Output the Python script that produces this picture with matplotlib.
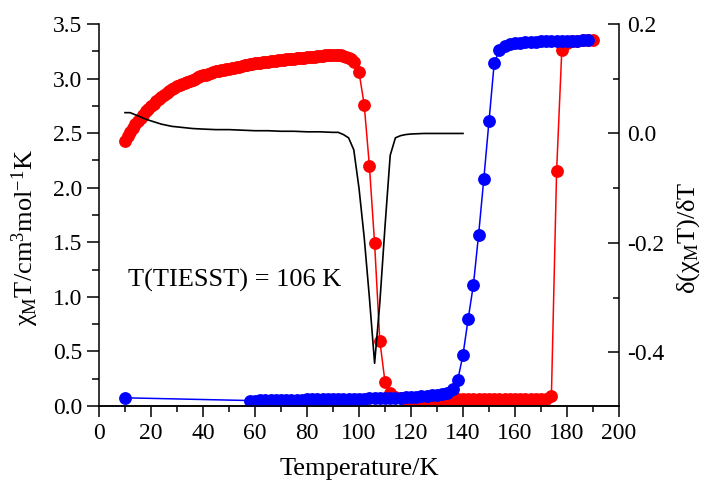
import matplotlib
matplotlib.use("Agg")
import matplotlib.pyplot as plt
from matplotlib.ticker import MultipleLocator, FixedLocator, FormatStrFormatter

plt.rcParams['font.family'] = ['Liberation Serif', 'DejaVu Serif']
plt.rcParams['mathtext.fontset'] = 'custom'
plt.rcParams['mathtext.rm'] = 'Liberation Serif'
plt.rcParams['mathtext.it'] = 'Liberation Serif:italic'
plt.rcParams['axes.unicode_minus'] = False

# ---- data: red series (chi_M T, left axis) ----
T_red = [10, 11, 12, 13, 14, 15, 16, 17, 18, 19, 20, 21, 22, 23, 24, 25, 26, 27, 28, 29,
         30, 31, 32, 33, 34, 35, 36, 37, 38, 39, 40, 41, 42, 43, 44, 45, 46, 47, 48, 49,
         50, 51, 52, 53, 54, 55, 56, 57, 58, 59, 60, 61, 62, 63, 64, 65, 66, 67, 68, 69,
         70, 71, 72, 73, 74, 75, 76, 77, 78, 79, 80, 81, 82, 83, 84, 85, 86, 87, 88, 89,
         90, 91, 92, 93, 94, 95, 96, 97, 98, 100, 102, 104, 106, 108, 110, 112, 114, 116,
         118, 120, 122, 124, 126, 128, 130, 132, 134, 136, 138, 140, 142, 144, 146, 148,
         150, 152, 154, 156, 158, 160, 162, 164, 166, 168, 170, 172, 174, 176, 178, 180,
         182, 184, 186, 188, 190]
chi_red = [2.43, 2.47, 2.51, 2.55, 2.58, 2.61, 2.64, 2.67, 2.70, 2.725, 2.75, 2.77, 2.79,
           2.81, 2.83, 2.85, 2.87, 2.885, 2.90, 2.915, 2.93, 2.94, 2.95, 2.96, 2.97, 2.98,
           2.99, 3.00, 3.01, 3.02, 3.03, 3.035, 3.04, 3.05, 3.06, 3.065, 3.07, 3.075, 3.08,
           3.085, 3.09, 3.095, 3.10, 3.105, 3.11, 3.115, 3.12, 3.125, 3.13, 3.135, 3.14,
           3.142, 3.145, 3.148, 3.15, 3.155, 3.16, 3.162, 3.165, 3.168, 3.17, 3.172, 3.175,
           3.178, 3.18, 3.182, 3.185, 3.188, 3.19, 3.192, 3.195, 3.198, 3.20, 3.202, 3.205,
           3.208, 3.21, 3.212, 3.215, 3.218, 3.22, 3.22, 3.22, 3.218, 3.21, 3.20, 3.19,
           3.175, 3.15, 3.06, 2.76, 2.20, 1.49, 0.60, 0.22, 0.12, 0.08, 0.07, 0.065, 0.06,
           0.06, 0.06, 0.06, 0.06, 0.06, 0.06, 0.06, 0.06, 0.06, 0.06, 0.06, 0.06, 0.06,
           0.06, 0.06, 0.06, 0.06, 0.06, 0.06, 0.062, 0.062, 0.063, 0.064, 0.065, 0.066,
           0.068, 0.092, 2.15, 3.26, 3.33, 3.34, 3.345, 3.35, 3.35, 3.355]

# ---- data: blue series (chi_M T, left axis) ----
T_blue = [10, 58, 60, 62, 64, 66, 68, 70, 72, 74, 76, 78, 80, 82, 84, 86, 88, 90, 92, 94,
          96, 98, 100, 102, 104, 106, 108, 110, 112, 114, 116, 118, 120, 122, 124, 126,
          128, 130, 132, 134, 136, 138, 140, 142, 144, 146, 148, 150, 152, 154, 156, 158,
          160, 162, 164, 166, 168, 170, 172, 174, 176, 178, 180, 182, 184, 186, 188]
chi_blue = [0.075, 0.05, 0.05, 0.051, 0.052, 0.053, 0.054, 0.055, 0.056, 0.057, 0.058,
            0.059, 0.06, 0.061, 0.062, 0.062, 0.063, 0.063, 0.064, 0.065, 0.066, 0.066,
            0.067, 0.068, 0.069, 0.070, 0.071, 0.072, 0.073, 0.074, 0.076, 0.078, 0.082,
            0.085, 0.09, 0.094, 0.10, 0.105, 0.11, 0.12, 0.16, 0.24, 0.47, 0.80, 1.11,
            1.57, 2.08, 2.61, 3.14, 3.26, 3.30, 3.32, 3.325, 3.33, 3.333, 3.335, 3.337,
            3.34, 3.34, 3.342, 3.344, 3.345, 3.346, 3.347, 3.348, 3.349, 3.35]

# ---- data: derivative d(chi_M T)/dT (black, right axis) ----
T_der = [10, 12, 14, 16, 18, 20, 24, 28, 32, 36, 40, 45, 50, 55, 60, 65, 70, 75, 80, 85,
         90, 92, 94, 96, 98, 100, 102, 104, 106, 108, 110, 112, 114, 116, 118, 120, 125,
         130, 135, 140]
d_der = [0.038, 0.038, 0.034, 0.030, 0.026, 0.023, 0.017, 0.013, 0.011, 0.009, 0.008,
         0.007, 0.007, 0.006, 0.005, 0.005, 0.004, 0.004, 0.003, 0.003, 0.002, 0.002,
         -0.002, -0.008, -0.030, -0.100, -0.190, -0.300, -0.420, -0.310, -0.170, -0.040,
         -0.008, -0.004, -0.002, -0.001, 0.0, 0.0, 0.0, 0.0]

annotation = "T(TIESST) = 106 K"
x_ticks = [0, 20, 40, 60, 80, 100, 120, 140, 160, 180, 200]
y_left_ticks = [0.0, 0.5, 1.0, 1.5, 2.0, 2.5, 3.0, 3.5]
y_right_ticks = [-0.4, -0.2, 0.0, 0.2]

fig = plt.figure(figsize=(7.08, 4.82), dpi=100)
ax = fig.add_axes([99/708, 1-406/482, 520/708, 382/482])
ax2 = ax.twinx()

lw_sp = 1.1
ax.plot(T_red, chi_red, '-o', color='#ff0000', ms=8.2, lw=1.1, mec='#ff0000', zorder=2)
ax.plot(T_blue, chi_blue, '-o', color='#0000ff', ms=8.2, lw=1.1, mec='#0000ff', zorder=3)
ax2.plot(T_der, d_der, '-', color='black', lw=1.2)

ax.set_xlim(0, 200)
ax.set_ylim(0, 3.5)
ax2.set_ylim(-0.498, 0.2)

ax.xaxis.set_major_locator(FixedLocator(x_ticks))
ax.xaxis.set_minor_locator(MultipleLocator(10))
ax.yaxis.set_major_locator(FixedLocator(y_left_ticks))
ax.yaxis.set_minor_locator(MultipleLocator(0.25))
ax.yaxis.set_major_formatter(FormatStrFormatter('%.1f'))
ax2.yaxis.set_major_locator(FixedLocator(y_right_ticks))
ax2.yaxis.set_minor_locator(FixedLocator([-0.3, -0.1, 0.1]))
ax2.yaxis.set_major_formatter(FormatStrFormatter('%.1f'))

for a in (ax, ax2):
    a.spines['top'].set_visible(False)
    for s in a.spines.values():
        s.set_linewidth(lw_sp)
ax.spines['right'].set_visible(False)
ax2.spines['left'].set_visible(False)

ax.tick_params(axis='x', which='major', direction='out', length=8, width=lw_sp, labelsize=17, pad=4)
ax.tick_params(axis='x', which='minor', direction='out', length=4, width=lw_sp)
ax.tick_params(axis='y', which='major', direction='out', length=9, width=lw_sp, labelsize=17, pad=3, right=False)
ax.tick_params(axis='y', which='minor', direction='out', length=5, width=lw_sp, right=False)
ax2.tick_params(axis='y', which='major', direction='in', length=8, width=lw_sp, labelsize=17, pad=6)
ax2.tick_params(axis='y', which='minor', direction='in', length=4, width=lw_sp)

ax.set_xlabel('Temperature/K', fontsize=19)
ax.xaxis.set_label_coords(0.5, -0.135)
ax.set_ylabel(r'$\mathrm{\chi_M T/cm^3 mol^{-1} K}$', fontsize=19)
ax.yaxis.set_label_coords(-0.112, 0.44)
ax2.set_ylabel(r'$\mathrm{\delta(\chi_M T)/\delta T}$', fontsize=19)
ax2.yaxis.set_label_coords(1.108, 0.44)

ax.text(11.2, 1.095, annotation, fontsize=19, va='baseline', ha='left')

fig.savefig('out.png', dpi=100)
